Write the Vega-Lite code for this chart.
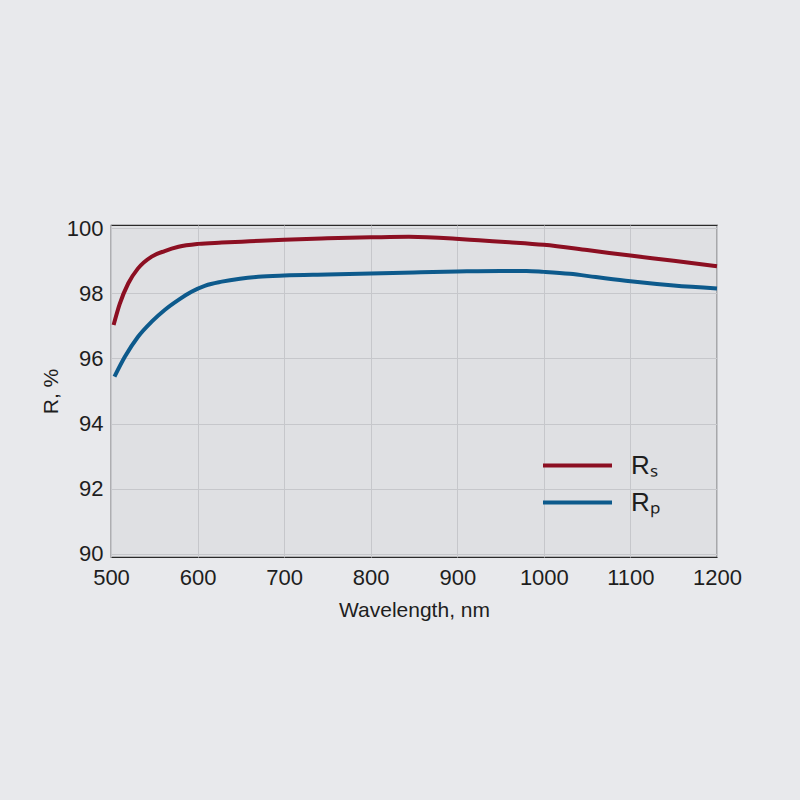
{
  "$schema": "https://vega.github.io/schema/vega-lite/v6.json",
  "width": 606,
  "height": 332,
  "autosize": {"type": "none"},
  "padding": {"left": 111, "top": 225, "right": 83, "bottom": 243},
  "background": "#e8e9ec",
  "config": {
    "view": {"fill": "#dfe0e3", "stroke": "#2a2a2a", "strokeWidth": 1.2},
    "font": "Liberation Sans"
  },
  "data": {
    "values": [
      {"wl": 503, "r": 97.03, "s": "Rₛ"},
      {"wl": 510, "r": 97.67, "s": "Rₛ"},
      {"wl": 520, "r": 98.31, "s": "Rₛ"},
      {"wl": 531, "r": 98.76, "s": "Rₛ"},
      {"wl": 547, "r": 99.13, "s": "Rₛ"},
      {"wl": 562, "r": 99.3, "s": "Rₛ"},
      {"wl": 578, "r": 99.43, "s": "Rₛ"},
      {"wl": 601, "r": 99.52, "s": "Rₛ"},
      {"wl": 628, "r": 99.56, "s": "Rₛ"},
      {"wl": 660, "r": 99.6, "s": "Rₛ"},
      {"wl": 700, "r": 99.65, "s": "Rₛ"},
      {"wl": 750, "r": 99.69, "s": "Rₛ"},
      {"wl": 800, "r": 99.72, "s": "Rₛ"},
      {"wl": 844, "r": 99.74, "s": "Rₛ"},
      {"wl": 898, "r": 99.68, "s": "Rₛ"},
      {"wl": 925, "r": 99.63, "s": "Rₛ"},
      {"wl": 960, "r": 99.57, "s": "Rₛ"},
      {"wl": 1000, "r": 99.49, "s": "Rₛ"},
      {"wl": 1050, "r": 99.33, "s": "Rₛ"},
      {"wl": 1100, "r": 99.16, "s": "Rₛ"},
      {"wl": 1150, "r": 99.0, "s": "Rₛ"},
      {"wl": 1200, "r": 98.83, "s": "Rₛ"},
      {"wl": 504, "r": 95.44, "s": "Rₚ"},
      {"wl": 516, "r": 96.05, "s": "Rₚ"},
      {"wl": 531, "r": 96.66, "s": "Rₚ"},
      {"wl": 547, "r": 97.13, "s": "Rₚ"},
      {"wl": 562, "r": 97.49, "s": "Rₚ"},
      {"wl": 578, "r": 97.8, "s": "Rₚ"},
      {"wl": 593, "r": 98.05, "s": "Rₚ"},
      {"wl": 609, "r": 98.24, "s": "Rₚ"},
      {"wl": 628, "r": 98.36, "s": "Rₚ"},
      {"wl": 649, "r": 98.45, "s": "Rₚ"},
      {"wl": 670, "r": 98.51, "s": "Rₚ"},
      {"wl": 700, "r": 98.55, "s": "Rₚ"},
      {"wl": 750, "r": 98.58, "s": "Rₚ"},
      {"wl": 800, "r": 98.61, "s": "Rₚ"},
      {"wl": 850, "r": 98.64, "s": "Rₚ"},
      {"wl": 900, "r": 98.67, "s": "Rₚ"},
      {"wl": 950, "r": 98.69, "s": "Rₚ"},
      {"wl": 980, "r": 98.69, "s": "Rₚ"},
      {"wl": 1000, "r": 98.66, "s": "Rₚ"},
      {"wl": 1030, "r": 98.6, "s": "Rₚ"},
      {"wl": 1060, "r": 98.5, "s": "Rₚ"},
      {"wl": 1100, "r": 98.37, "s": "Rₚ"},
      {"wl": 1150, "r": 98.24, "s": "Rₚ"},
      {"wl": 1200, "r": 98.15, "s": "Rₚ"}
    ]
  },
  "mark": {"type": "line", "strokeWidth": 4, "interpolate": "monotone"},
  "encoding": {
    "x": {
      "field": "wl", "type": "quantitative",
      "scale": {"domain": [500, 1200], "nice": false},
      "axis": {
        "title": "Wavelength, nm", "values": [500, 600, 700, 800, 900, 1000, 1100, 1200], "format": "d",
        "labelFontSize": 22, "labelColor": "#1e1e1e", "labelPadding": 10, "ticks": false, "domain": false,
        "titleFontSize": 21, "titleFontWeight": "normal", "titleColor": "#1e1e1e", "titlePadding": 11,
        "gridColor": "#c6c7cb", "gridWidth": 1, "labelFlush": false
      }
    },
    "y": {
      "field": "r", "type": "quantitative",
      "scale": {"domain": [89.9, 100.1], "nice": false, "zero": false},
      "axis": {
        "title": "R, %", "values": [90, 92, 94, 96, 98, 100], "format": "d",
        "labelFontSize": 22, "labelColor": "#1e1e1e", "labelPadding": 8, "ticks": false, "domain": false,
        "titleFontSize": 21, "titleFontWeight": "normal", "titleColor": "#1e1e1e", "titlePadding": 5,
        "gridColor": "#c6c7cb", "gridWidth": 1
      }
    },
    "color": {
      "field": "s", "type": "nominal",
      "scale": {"domain": ["Rₛ", "Rₚ"], "range": ["#8c0f22", "#0d5a8c"]},
      "legend": {
        "title": null, "orient": "none", "legendX": 453, "legendY": 227, "padding": 0,
        "symbolType": "M-3,0H3", "symbolSize": 529, "symbolStrokeWidth": 4, "symbolFillColor": "transparent",
        "labelFontSize": 26, "labelColor": "#1e1e1e", "labelOffset": 40, "rowPadding": 10
      }
    }
  }
}
